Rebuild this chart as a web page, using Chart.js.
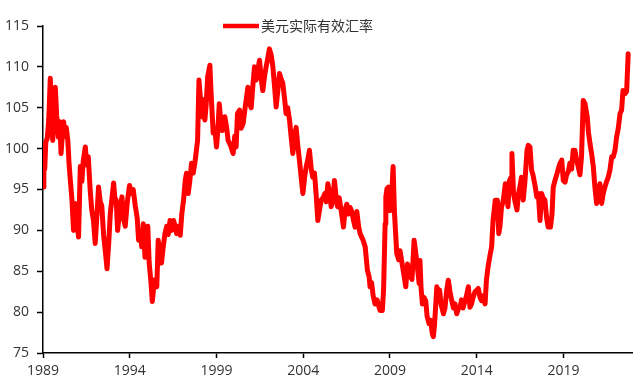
<!DOCTYPE html>
<html>
<head>
<meta charset="utf-8">
<script src="https://cdn.jsdelivr.net/npm/chart.js@4"></script>
<style>
  html, body { margin: 0; padding: 0; background: #fff; }
  #wrap { width: 640px; height: 383px; }
</style>
</head>
<body>
<div id="wrap"><canvas id="myChart"></canvas></div>
<script>
const seriesName = '美元实际有效汇率';

// fractional years
const dates = [
  1989.00, 1989.05, 1989.10, 1989.16, 1989.25, 1989.33, 1989.42, 1989.51, 1989.56, 1989.65,
  1989.71, 1989.79, 1989.88, 1989.97, 1990.04, 1990.11, 1990.19, 1990.26, 1990.34, 1990.43,
  1990.51, 1990.60, 1990.67, 1990.76, 1990.86, 1990.95, 1991.05, 1991.15, 1991.24, 1991.32,
  1991.44, 1991.52, 1991.61, 1991.72, 1991.81, 1991.91, 1992.01, 1992.10, 1992.20, 1992.30,
  1992.39, 1992.49, 1992.59, 1992.69, 1992.79, 1992.88, 1993.07, 1993.14, 1993.22, 1993.30,
  1993.40, 1993.55, 1993.63, 1993.74, 1993.86, 1993.99, 1994.09, 1994.20, 1994.32, 1994.43,
  1994.51, 1994.60, 1994.69, 1994.78, 1994.88, 1994.95, 1995.04, 1995.12, 1995.21, 1995.30,
  1995.38, 1995.47, 1995.56, 1995.64, 1995.73, 1995.83, 1995.93, 1996.03, 1996.13, 1996.22,
  1996.32, 1996.42, 1996.52, 1996.62, 1996.70, 1996.79, 1996.91, 1997.00, 1997.10, 1997.20,
  1997.27, 1997.37, 1997.46, 1997.56, 1997.66, 1997.77, 1997.91, 1997.99, 1998.06, 1998.14,
  1998.21, 1998.33, 1998.41, 1998.49, 1998.62, 1998.69, 1998.81, 1998.90, 1999.00, 1999.07,
  1999.16, 1999.24, 1999.33, 1999.48, 1999.59, 1999.67, 1999.79, 1999.96, 2000.05, 2000.13,
  2000.21, 2000.33, 2000.42, 2000.54, 2000.65, 2000.81, 2000.91, 2001.00, 2001.09, 2001.19,
  2001.29, 2001.37, 2001.48, 2001.58, 2001.67, 2001.78, 2001.86, 2001.95, 2002.05, 2002.15,
  2002.25, 2002.35, 2002.44, 2002.53, 2002.63, 2002.73, 2002.82, 2002.93, 2003.01, 2003.10,
  2003.21, 2003.30, 2003.40, 2003.50, 2003.59, 2003.68, 2003.78, 2003.88, 2003.98, 2004.08,
  2004.17, 2004.25, 2004.36, 2004.46, 2004.55, 2004.65, 2004.74, 2004.84, 2004.94, 2005.03,
  2005.15, 2005.24, 2005.32, 2005.42, 2005.52, 2005.61, 2005.69, 2005.80, 2005.90, 2005.98,
  2006.07, 2006.18, 2006.32, 2006.41, 2006.51, 2006.60, 2006.70, 2006.80, 2006.90, 2006.99,
  2007.09, 2007.19, 2007.28, 2007.36, 2007.45, 2007.57, 2007.70, 2007.80, 2007.85, 2007.94,
  2008.03, 2008.14, 2008.26, 2008.37, 2008.43, 2008.56, 2008.63, 2008.72, 2008.76, 2008.83,
  2008.91, 2009.01, 2009.09, 2009.18, 2009.26, 2009.39, 2009.50, 2009.58, 2009.70, 2009.81,
  2009.91, 2010.01, 2010.10, 2010.19, 2010.27, 2010.39, 2010.47, 2010.56, 2010.68, 2010.73,
  2010.79, 2010.87, 2010.96, 2011.06, 2011.14, 2011.25, 2011.34, 2011.44, 2011.50, 2011.57,
  2011.70, 2011.77, 2011.86, 2011.94, 2012.08, 2012.17, 2012.26, 2012.36, 2012.46, 2012.56,
  2012.66, 2012.75, 2012.85, 2012.95, 2013.04, 2013.12, 2013.21, 2013.33, 2013.41, 2013.52,
  2013.61, 2013.70, 2013.79, 2013.90, 2014.02, 2014.09, 2014.19, 2014.28, 2014.36, 2014.48,
  2014.56, 2014.65, 2014.77, 2014.86, 2014.94, 2015.07, 2015.19, 2015.27, 2015.34, 2015.43,
  2015.52, 2015.65, 2015.73, 2015.80, 2015.89, 2015.98, 2016.03, 2016.12, 2016.21, 2016.32,
  2016.41, 2016.49, 2016.58, 2016.68, 2016.78, 2016.90, 2016.97, 2017.07, 2017.16, 2017.24,
  2017.36, 2017.46, 2017.55, 2017.65, 2017.74, 2017.82, 2017.93, 2018.03, 2018.12, 2018.25,
  2018.34, 2018.41, 2018.51, 2018.61, 2018.70, 2018.80, 2018.90, 2018.99, 2019.09, 2019.18,
  2019.28, 2019.37, 2019.47, 2019.56, 2019.66, 2019.76, 2019.85, 2019.95, 2020.04, 2020.14,
  2020.24, 2020.37, 2020.44, 2020.53, 2020.62, 2020.72, 2020.81, 2020.91, 2021.00, 2021.10,
  2021.20, 2021.29, 2021.39, 2021.49, 2021.58, 2021.68, 2021.78, 2021.87, 2021.97, 2022.06,
  2022.16, 2022.26, 2022.35, 2022.43, 2022.53, 2022.64, 2022.73
];

const reer = [
  95.3, 99.0, 97.5, 100.8, 101.3, 103.5, 108.6, 103.0, 101.0, 106.0,
  107.5, 104.0, 101.4, 103.3, 99.4, 101.5, 103.3, 101.5, 102.6, 101.0,
  97.9, 95.5, 93.7, 90.0, 93.3, 91.0, 89.2, 97.8, 96.0, 98.5,
  100.2, 98.0, 99.0, 94.9, 92.5, 91.2, 88.4, 91.5, 95.3, 93.5,
  93.0, 89.5, 87.5, 85.3, 88.5, 92.1, 95.8, 94.0, 93.7, 90.0,
  92.0, 94.1, 91.5, 90.5, 93.5, 95.5, 94.5, 95.0, 93.0, 91.5,
  88.8, 90.0, 88.0, 90.8, 86.7, 89.5, 90.5, 86.0, 84.0, 81.3,
  83.0, 84.0, 83.1, 88.8, 87.5, 86.0, 88.0, 89.6, 90.5, 89.5,
  91.2, 90.0, 91.2, 90.5, 89.6, 90.5, 89.4, 92.0, 93.7, 96.1,
  97.0, 94.5, 96.0, 98.2, 97.0, 98.5, 101.0, 108.4, 106.5, 103.9,
  106.0, 103.5, 105.5, 108.8, 110.2, 106.7, 101.9, 102.5, 100.2, 102.0,
  105.5, 103.5, 102.2, 103.9, 102.5, 101.0, 100.5, 99.4, 101.5, 100.2,
  104.3, 104.7, 102.5, 103.1, 105.0, 107.5, 105.5, 105.0, 107.5, 110.0,
  108.4, 109.5, 110.8, 108.5, 107.1, 109.0, 110.0, 111.0, 112.2, 111.5,
  110.0, 107.5, 105.1, 107.0, 109.2, 108.5, 108.0, 106.0, 104.3, 105.0,
  103.5, 101.5, 99.4, 101.5, 102.6, 100.5, 98.6, 96.5, 94.5, 96.5,
  97.8, 98.5, 99.8, 97.5, 96.5, 97.0, 94.5, 91.2, 92.5, 93.7,
  94.0, 94.5, 93.5, 95.7, 94.5, 92.9, 93.5, 96.1, 94.0, 92.9,
  94.0, 92.5, 90.4, 92.5, 93.2, 92.0, 92.8, 92.3, 91.2, 90.4,
  92.3, 90.5, 89.6, 89.2, 88.8, 88.0, 85.1, 84.3, 83.1, 83.6,
  82.0, 81.0, 81.5, 80.6, 80.2, 80.2, 82.7, 90.8, 94.1, 95.1,
  95.3, 92.4, 94.0, 97.8, 92.1, 87.2, 86.4, 87.5, 85.9, 84.5,
  83.1, 85.9, 84.3, 85.5, 84.0, 88.8, 87.5, 85.9, 83.5, 86.3,
  83.0, 81.0, 81.8, 81.4, 79.5, 78.6, 79.0, 77.4, 77.0, 78.5,
  83.1, 82.5, 82.7, 81.0, 79.8, 80.5, 82.5, 83.9, 82.5, 81.4,
  80.5, 81.0, 79.8, 80.5, 80.6, 81.5, 80.5, 81.4, 82.0, 83.1,
  80.6, 81.0, 81.8, 82.5, 82.7, 82.9, 81.8, 81.4, 82.0, 81.0,
  83.9, 85.5, 87.0, 88.0, 91.2, 93.7, 93.7, 89.6, 90.5, 92.9,
  93.5, 95.7, 95.3, 92.9, 96.1, 96.5, 99.4, 94.5, 93.5, 92.5,
  94.5, 95.3, 96.5, 93.7, 96.0, 99.8, 100.4, 100.2, 97.4, 96.8,
  95.5, 94.1, 94.5, 91.2, 94.5, 94.0, 93.7, 91.5, 90.4, 90.4,
  92.0, 95.3, 96.1, 96.8, 97.5, 98.2, 98.6, 96.1, 95.9, 96.8,
  97.2, 98.2, 97.5, 99.8, 99.8, 98.6, 97.8, 96.8, 99.0, 105.9,
  105.5, 103.9, 102.0, 100.6, 99.4, 97.8, 95.3, 93.3, 94.5, 95.7,
  93.3, 94.5, 95.3, 96.0, 96.5, 97.4, 99.0, 99.0, 99.8, 101.4,
  102.5, 104.3, 104.7, 107.1, 106.7, 107.0, 111.6
];

const xTickValues = [1989, 1994, 1999, 2004, 2009, 2014, 2019];
const xTickLabels = ['1989', '1994', '1999', '2004', '2009', '2014', '2019'];
const yMin = 75, yMax = 115, yStep = 5;
const xMin = 1989, xMax = 2022.95;

const fontFamily = '"Open Sans", "Noto Sans CJK SC", sans-serif';
const textColor = '#333333';

// legend sits inside the top of the plot, like the original
const legendLine = {
    id: 'legendLine',
    afterDatasetsDraw(chart) {
        const ctx = chart.ctx;
        const ds = chart.data.datasets[0];
        const y = chart.chartArea.top;
        ctx.save();
        ctx.strokeStyle = ds.borderColor;
        ctx.lineWidth = 4.5;
        ctx.beginPath();
        ctx.moveTo(223, y);
        ctx.lineTo(259, y);
        ctx.stroke();
        ctx.fillStyle = textColor;
        ctx.font = '14px ' + fontFamily;
        ctx.textBaseline = 'middle';
        ctx.fillText(ds.label, 261, y + 1);
        ctx.restore();
    }
};

const ctx = document.getElementById('myChart').getContext('2d');
const myChart = new Chart(ctx, {
    type: 'line',
    data: {
        datasets: [{
            label: seriesName,
            data: dates.map((d, i) => ({x: d, y: reer[i]})),
            borderColor: '#ff0000',
            backgroundColor: '#ff0000',
            borderWidth: 5,
            borderJoinStyle: 'round',
            borderCapStyle: 'round',
            pointRadius: 0,
            tension: 0,
            fill: false
        }]
    },
    options: {
        responsive: true,
        maintainAspectRatio: false,
        devicePixelRatio: 1,
        animation: false,
        layout: {
            padding: {left: 0, right: 8, top: 26, bottom: 0}
        },
        plugins: {
            legend: {display: false},
            tooltip: {enabled: false}
        },
        scales: {
            x: {
                type: 'linear',
                min: xMin,
                max: xMax,
                afterFit: (scale) => { scale.height = 30; },
                afterBuildTicks: (scale) => {
                    scale.ticks = xTickValues.map(v => ({value: v}));
                },
                grid: {
                    drawOnChartArea: false,
                    drawTicks: true,
                    tickLength: 5,
                    tickWidth: 1.5,
                    tickColor: '#000'
                },
                border: {display: true, color: '#000', width: 1.5},
                ticks: {
                    autoSkip: false,
                    maxRotation: 0,
                    padding: 5,
                    color: textColor,
                    font: {family: fontFamily, size: 14},
                    callback: (v) => xTickLabels[xTickValues.indexOf(v)]
                }
            },
            y: {
                min: yMin,
                max: yMax,
                afterFit: (scale) => { scale.width = 43; },
                grid: {
                    drawOnChartArea: false,
                    drawTicks: true,
                    tickLength: 6,
                    tickWidth: 1.5,
                    tickColor: '#000'
                },
                border: {display: true, color: '#000', width: 1.5},
                ticks: {
                    stepSize: yStep,
                    padding: 8,
                    color: textColor,
                    font: {family: fontFamily, size: 14}
                }
            }
        }
    },
    plugins: [legendLine]
});
</script>
</body>
</html>
